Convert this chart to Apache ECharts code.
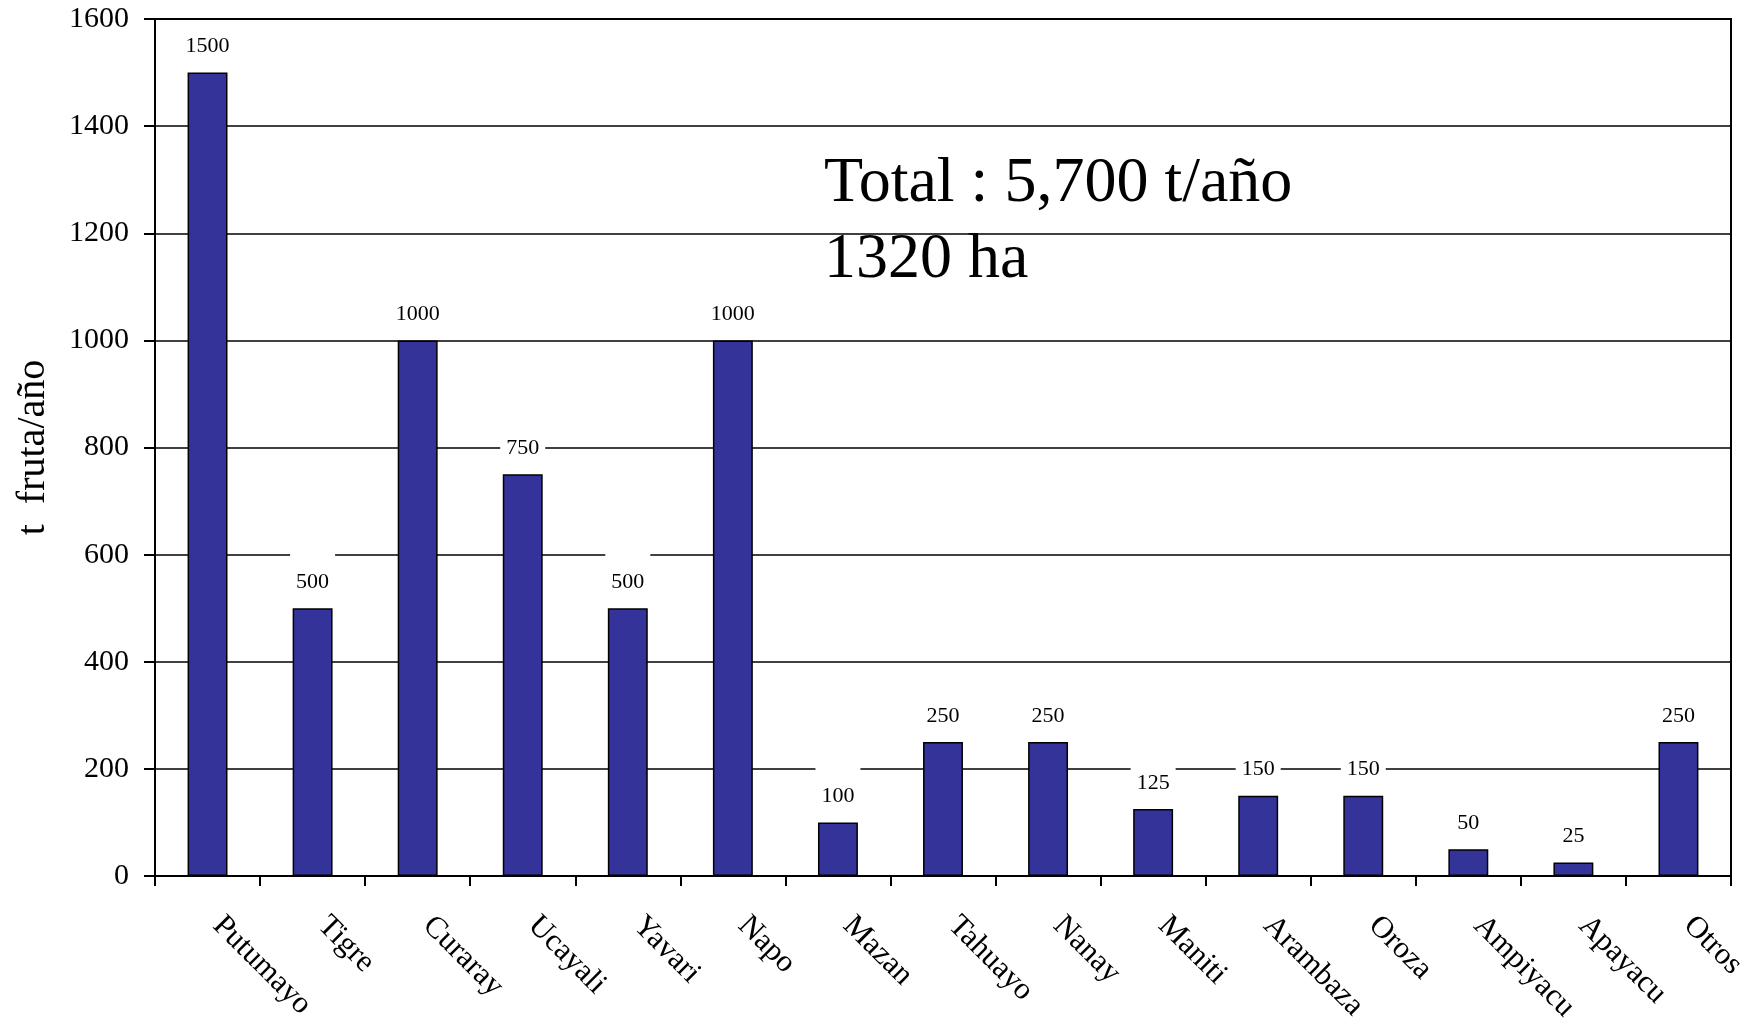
<!DOCTYPE html>
<html>
<head>
<meta charset="utf-8">
<script src="https://cdn.jsdelivr.net/npm/echarts@6/dist/echarts.min.js"></script>
<style>
html,body{margin:0;padding:0;background:#fff;}
#chart{width:1758px;height:1024px;}
</style>
</head>
<body>
<div id="chart"></div>
<script>
const categories = ['Putumayo','Tigre','Curaray','Ucayali','Yavari','Napo','Mazan','Tahuayo','Nanay','Maniti','Arambaza','Oroza','Ampiyacu','Apayacu','Otros'];
const values = [1500, 500, 1000, 750, 500, 1000, 100, 250, 250, 125, 150, 150, 50, 25, 250];
const yTicks = { min: 0, max: 1600, interval: 200 };
const yAxisName = 't  fruta/año';
const annotation = ['Total : 5,700 t/año', '1320 ha'];

const FONT = '"Liberation Serif", "Times New Roman", serif';
// labels near the top frame get a smaller white box so the frame stays visible
const seriesData = values.map(v => v > yTicks.max - 2 * yTicks.interval
  ? { value: v, label: { padding: [10, 6, 0, 6] } }
  : v);

const chart = echarts.init(document.getElementById('chart'));
chart.setOption({
  backgroundColor: '#ffffff',
  animation: false,
  grid: { left: 155, right: 27, top: 19, bottom: 148, outerBoundsMode: 'none', containLabel: false, show: true, borderColor: '#000', borderWidth: 2, backgroundColor: 'transparent' },
  xAxis: {
    type: 'category',
    data: categories,
    boundaryGap: true,
    axisLine: { lineStyle: { color: '#000', width: 2 } },
    axisTick: { show: true, length: 10, alignWithLabel: false, lineStyle: { color: '#000', width: 2 } },
    axisLabel: { rotate: -45, margin: 35, interval: 0, color: '#000', fontFamily: FONT, fontSize: 31, padding: [0, 0, 0, 14] },
    splitLine: { show: false }
  },
  yAxis: {
    type: 'value',
    min: yTicks.min, max: yTicks.max, interval: yTicks.interval,
    name: yAxisName,
    nameLocation: 'middle',
    nameGap: 102,
    nameTextStyle: { color: '#000', fontFamily: FONT, fontSize: 40 },
    axisLine: { show: true, lineStyle: { color: '#000', width: 2 } },
    axisTick: { show: true, length: 11, lineStyle: { color: '#000', width: 2 } },
    axisLabel: { margin: 26, color: '#000', fontFamily: FONT, fontSize: 30, formatter: v => String(v) },
    splitLine: { show: true, lineStyle: { color: '#000', width: 1.5 } }
  },
  series: [{
    type: 'bar',
    data: seriesData,
    barWidth: '38%',
    itemStyle: { color: '#333399', borderColor: '#000', borderWidth: 1.5 },
    label: {
      show: true, position: 'top', distance: 15,
      color: '#000', fontFamily: FONT, fontSize: 22,
      backgroundColor: '#fff', padding: [18, 6, 0, 6]
    }
  }],
  graphic: [{
    type: 'text', left: 824, top: 146,
    style: { text: annotation.join('\n'), fill: '#000', font: '64px ' + FONT, lineHeight: 76 }
  }]
});
</script>
</body>
</html>
